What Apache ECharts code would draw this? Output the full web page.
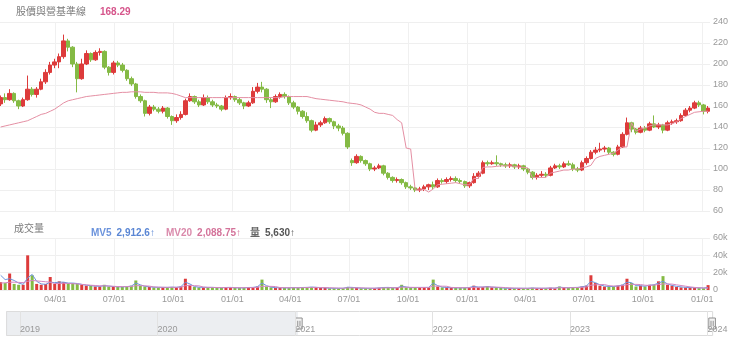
<!DOCTYPE html>
<html>
<head>
<meta charset="utf-8">
<script src="https://cdn.jsdelivr.net/npm/echarts@6/dist/echarts.min.js"></script>
<style>
  html, body { margin: 0; padding: 0; background: #fff; }
  #chart { width: 740px; height: 343px; }
</style>
</head>
<body>
<div id="chart"></div>
<script>
// Weekly candles; the first week is centred on this Wednesday
const firstWeek = '2021-01-06';

const opens = [162,168,166,172,165,160,166,176,171,176,183,192,199,202,207,222,216,200,186,200,
  210,204,211,212,197,192,201,199,194,186,181,169,165,153,159,157,155,158,150,146,
  149,152,165,169,164,161,168,164,161,160,157,168,169,166,163,160,163,174,178,176,
  166,164,169,171,169,163,159,155,150,146,137,142,144,148,145,141,139,134,108,106,
  112,108,105,100,101,103,96,92,89,90,87,83,82,80,81,83,85,83,89,88,
  90,91,89,88,84,87,93,96,106,105,106,105,104,103,104,102,103,100,97,92,
  94,95,94,101,103,102,105,104,100,99,106,110,116,118,119,120,116,114,121,133,
  144,138,135,139,137,143,140,142,137,144,145,146,151,156,158,163,161,155];
const closes = [168,166,172,165,160,166,176,171,176,183,192,199,202,207,222,216,200,186,200,210,
  204,211,212,197,192,201,199,194,186,181,169,165,153,159,157,155,158,150,146,149,
  152,165,169,164,161,168,164,161,160,157,168,169,166,163,160,163,174,178,176,166,
  164,169,171,169,163,159,155,150,146,137,142,144,148,145,141,139,134,121,106,112,
  108,105,100,101,103,96,92,89,90,87,83,82,80,81,83,85,83,89,88,90,
  91,89,88,84,87,93,96,106,105,106,105,104,103,104,102,103,100,97,92,94,
  95,94,101,103,102,105,104,100,99,106,110,116,118,119,120,116,114,121,133,144,
  138,135,139,137,143,140,142,137,144,145,146,151,156,158,163,161,155,158];
const highs = [170,172,176,173,166,168,189,178,178,186,195,202,205,210,228,224,217,202,205,213,
  211,213,215,213,198,203,203,201,195,188,182,171,166,161,161,159,160,159,151,152,
  155,167,172,170,166,171,170,166,163,161,170,172,170,168,164,165,178,182,183,177,
  168,171,173,173,170,165,160,156,154,147,145,146,150,149,146,143,141,135,110,114,
  113,109,106,103,105,104,97,93,92,91,88,85,83,83,85,86,88,91,91,92,
  93,93,91,89,88,96,98,108,108,108,113,106,106,106,105,105,104,101,98,96,
  98,97,103,105,105,107,108,106,102,108,112,118,121,125,122,121,117,123,135,149,
  145,139,141,141,145,151,144,143,146,147,148,153,158,160,165,165,162,160];
const lows = [160,163,165,163,157,159,165,169,168,175,181,190,196,196,205,212,197,173,185,199,
  202,203,208,195,189,190,197,192,184,179,167,163,150,151,155,153,153,148,142,144,
  147,151,164,162,159,160,162,159,158,155,156,166,164,161,157,159,162,172,173,163,
  158,163,167,167,161,157,152,148,144,135,136,140,143,143,138,136,132,119,103,105,
  106,103,98,98,100,94,90,87,87,85,81,80,78,78,79,80,81,82,86,86,
  88,87,86,82,82,86,91,95,103,104,103,102,101,101,100,100,98,95,90,90,
  92,92,93,100,100,101,103,98,97,98,104,109,114,116,116,114,112,113,120,132,
  135,133,134,135,136,139,138,134,136,142,143,145,150,154,157,159,152,153];

// Baseline (pink) line, one value per week
const baseline = [140,141,142,143,144,145,146,148,150,152,153,155,157,160,163,165,166,167,168,169,
  169.5,170,170.5,171,171.5,172,172.5,173,173,173.5,173.5,173.5,173,173,173,172.5,172.5,172.5,172,171,
  169.5,168,168,168,168,168,168,168,168,168,168,168,168,168,168,168,168,168,168,168,
  168,168,168,169,169,169,169,169,169,168,167,166.5,166,165.5,165,164.5,164,163,162.5,162,
  161,159,157,154,153,153,152,151,147,144,120,119,80,80,80.5,78,81,85,85.5,86,
  86.5,87,86,85,85,91,91,101.5,102,102,102.5,103,103,103,102.5,102,101.5,101,92,92,
  92,92,96,97,98,99,99,100,100,101,102,103.5,110,112,113,114,115,118,121,121,
  144,136,138,139,141,142,142,142,142,143,145,148,150,152,154,154.5,155,155];

// Volume (shares) with its 5- and 20-period averages
const volumes = [9000,8000,19000,7000,6000,6000,40000,17000,7000,6000,7000,15000,7000,10000,9000,8000,8000,7000,6000,5000,
  5000,4000,4000,6000,4000,4000,3500,3500,4000,5000,11000,5000,4000,3500,3000,3000,3000,3000,3500,3000,
  4000,13000,6000,3500,3000,3000,3000,3000,2500,2500,3000,3000,2500,2500,2500,3000,3000,4000,12000,4000,
  3000,2500,2500,2500,2500,3000,2500,3000,3000,3500,3000,2500,2500,2000,2000,2000,2000,3500,3000,2500,
  2000,2000,2000,2000,2500,3000,3000,2500,2500,6000,3000,2500,3000,3000,3000,3000,12000,4000,3000,3000,
  2500,2500,2500,2500,3000,5000,3000,3500,4500,3000,3000,2500,2000,2000,2000,2000,2000,2000,2500,2000,
  2000,2000,2500,2000,4000,2500,2500,3000,3000,4000,5000,17000,8000,5000,4000,4000,4000,5000,6000,13000,
  8000,4000,5000,4000,6000,6000,10000,16000,6000,5000,3500,3000,2800,2500,2500,2200,2000,5630];
const mv5 = [17000,12000,13000,11000,8000,6500,14000,18000,10000,7000,6500,9000,8500,9000,9000,8000,8000,7500,6500,5500,
  5000,4500,4200,5000,4500,4000,3700,3600,3900,4500,8000,6000,4300,3700,3200,3100,3000,3000,3300,3100,
  3800,9000,7000,4000,3200,3100,3000,3000,2700,2600,2900,3000,2600,2500,2500,2900,3000,3800,8000,5000,
  3300,2700,2600,2500,2500,2800,2600,2900,3000,3400,3100,2600,2500,2100,2000,2000,2000,3200,3000,2600,
  2100,2000,2000,2000,2400,2900,3000,2600,2500,4500,3500,2700,2900,3000,3000,3000,8000,5000,3300,3000,
  2600,2500,2500,2500,2900,4200,3400,3400,4000,3300,3000,2600,2100,2000,2000,2000,2000,2000,2300,2100,
  2000,2000,2300,2100,3300,2800,2600,2900,3000,3700,4600,10000,8500,6000,4500,4100,4000,4700,5800,9000,
  8500,5000,4900,4300,5500,6000,8000,10000,7000,5300,4200,3600,3100,2800,2600,2500,2300,2912.6];
const mv20 = [8000,8300,9000,9000,8800,8500,10000,11000,10500,10000,9500,9000,7500,7500,7800,7500,7300,7000,6500,6000,
  5500,5200,4800,4800,4600,4300,4000,3900,3900,4000,5000,5000,4800,4500,3600,3300,3200,3100,3100,3100,
  3300,5000,5200,5000,4800,3400,3100,3000,2900,2800,2800,2800,2700,2600,2600,2700,2800,3000,4200,4300,
  4200,4000,2800,2700,2600,2600,2600,2700,2800,2900,3000,2900,2800,2600,2400,2200,2100,2400,2500,2500,
  2500,2300,2100,2100,2200,2400,2500,2600,2700,3200,3200,3100,3000,2900,2900,3000,4500,4500,4400,4300,
  3000,2800,2600,2600,2700,3000,3200,3400,3600,3500,3300,3100,2800,2500,2200,2100,2000,2000,2100,2100,
  2100,2100,2200,2200,2600,2600,2600,2700,2800,3100,3500,5500,6000,6200,6300,5000,4600,4600,5000,6200,
  6500,6500,6300,5500,5300,5700,6300,7000,7000,6800,6000,5200,4400,3600,3000,2600,2300,2088.75];

// Axis ticks
const quarterTicks = ['2021-04-01','2021-07-01','2021-10-01','2022-01-01','2022-04-01','2022-07-01',
  '2022-10-01','2023-01-01','2023-04-01','2023-07-01','2023-10-01','2024-01-01'];
const yearTicks = ['2019-01-01','2020-01-01','2021-01-01','2022-01-01','2023-01-01','2024-01-01'];
const rangeStart = '2018-11-22';
const viewStart = '2021-01-05';
const rangeEnd = '2024-01-13';
const baselineValue = '168.29';

const RED = '#dd3b3b', GREEN = '#84ba44';
const FONT = "'Liberation Sans', 'Noto Sans CJK TC', sans-serif";

function T(s) {
  const p = s.split('-').map(Number);
  return new Date(p[0], p[1] - 1, p[2]).getTime();
}
const DAY = 86400000;
const t0 = T(firstWeek);
const dates = closes.map((_, i) => t0 + i * 7 * DAY);
const pad = n => (n < 10 ? '0' : '') + n;
const fmt = (v, d) => v.toLocaleString('en-US', { maximumFractionDigits: d });
const last = a => a[a.length - 1];

const candleData = dates.map((d, i) => [d, opens[i], closes[i], lows[i], highs[i]]);
const volData = dates.map((d, i) => ({
  value: [d, volumes[i]],
  itemStyle: { color: closes[i] >= opens[i] ? RED : GREEN }
}));

const chart = echarts.init(document.getElementById('chart'), null, { renderer: 'canvas' });

// Dates are plotted as millisecond values on linear axes
const dateAxisBase = {
  type: 'value',
  min: T(rangeStart),
  max: T(rangeEnd),
  axisLine: { show: false },
  splitLine: { show: true, lineStyle: { color: '#f0f0f0', width: 1 } }
};

chart.setOption({
  animation: false,
  textStyle: { fontFamily: FONT },
  title: [
    { left: 11, top: 2, text: '股價與營基準線', textStyle: { fontSize: 10, fontWeight: 'normal', color: '#7a7a7a', fontFamily: FONT } },
    { left: 95, top: 2, text: baselineValue, textStyle: { fontSize: 10, fontWeight: 'bold', color: '#d6558b', fontFamily: FONT } },
    { left: 9, top: 219, text: '成交量', textStyle: { fontSize: 10, fontWeight: 'normal', color: '#7a7a7a', fontFamily: FONT } },
    { left: 86, top: 219, text: '{l|MV5} {v|' + fmt(last(mv5), 2) + '↑}',
      textStyle: { fontFamily: FONT, rich: {
        l: { fontSize: 10, color: '#6b93dc', fontFamily: FONT },
        v: { fontSize: 10, color: '#5a86d4', fontWeight: 'bold', fontFamily: FONT } } } },
    { left: 161, top: 219, text: '{l|MV20} {v|' + fmt(last(mv20), 2) + '↑}',
      textStyle: { fontFamily: FONT, rich: {
        l: { fontSize: 10, color: '#da8aab', fontFamily: FONT },
        v: { fontSize: 10, color: '#d4739a', fontWeight: 'bold', fontFamily: FONT } } } },
    { left: 245, top: 219, text: '{l|量} {v|' + fmt(last(volumes), 0) + '↑}',
      textStyle: { fontFamily: FONT, rich: {
        l: { fontSize: 10, color: '#666', fontFamily: FONT },
        v: { fontSize: 10, color: '#555', fontWeight: 'bold', fontFamily: FONT } } } }
  ],
  grid: [
    { left: 0, right: 30, top: 22, height: 189 },
    { left: 0, right: 30, top: 238, height: 52 },
    { left: 5, right: 28, top: 311, height: 25 }
  ],
  xAxis: [
    Object.assign({}, dateAxisBase, {
      gridIndex: 0,
      axisTick: { show: false, customValues: quarterTicks.map(T) },
      axisLabel: { show: false, customValues: quarterTicks.map(T) }
    }),
    Object.assign({}, dateAxisBase, {
      gridIndex: 1,
      axisTick: { show: false, customValues: quarterTicks.map(T) },
      axisLabel: {
        customValues: quarterTicks.map(T),
        color: '#999', fontSize: 9, margin: 5,
        formatter: v => { const d = new Date(v); return pad(d.getMonth() + 1) + '/' + pad(d.getDate()); }
      }
    }),
    {
      type: 'value', gridIndex: 2, z: 10,
      min: T(rangeStart), max: T(rangeEnd),
      axisLine: { show: false },
      axisTick: { show: false, customValues: yearTicks.map(T) },
      splitLine: { show: true, lineStyle: { color: '#e2e2e2' } },
      axisLabel: {
        inside: true, customValues: yearTicks.map(T), align: 'left',
        color: '#999', fontSize: 9, margin: 2,
        formatter: v => String(new Date(v).getFullYear())
      }
    }
  ],
  yAxis: [
    {
      type: 'value', gridIndex: 0, position: 'right', min: 60, max: 240, interval: 20,
      axisLine: { show: false }, axisTick: { show: false },
      axisLabel: { color: '#999', fontSize: 9, margin: 3 },
      splitLine: { lineStyle: { color: '#efefef' } }
    },
    {
      type: 'value', gridIndex: 1, position: 'right', min: 0, max: 60000, interval: 20000,
      axisLine: { show: false }, axisTick: { show: false },
      axisLabel: { color: '#999', fontSize: 9, margin: 3, formatter: v => (v === 0 ? '0' : v / 1000 + 'k') },
      splitLine: { lineStyle: { color: '#efefef' } }
    },
    { type: 'value', gridIndex: 2, show: false, min: 0, max: 1 }
  ],
  dataZoom: [{
    type: 'slider',
    xAxisIndex: [0, 1],
    filterMode: 'filter',
    startValue: T(viewStart),
    endValue: T(rangeEnd),
    left: 5, right: 28, top: 311, height: 25,
    showDataShadow: false, showDetail: false, brushSelect: false,
    moveHandleSize: 0,
    borderRadius: 0,
    backgroundColor: '#eceef1',
    fillerColor: '#ffffff',
    borderColor: '#dcdcdc',
    handleIcon: 'path://M0,0H6V10H0Z M2,2.5V7.5 M4,2.5V7.5',
    handleSize: 11,
    handleStyle: { color: '#f4f4f4', borderColor: '#8f8f8f', borderWidth: 1 },
    dataBackground: { lineStyle: { opacity: 0 }, areaStyle: { opacity: 0 } },
    selectedDataBackground: { lineStyle: { opacity: 0 }, areaStyle: { opacity: 0 } }
  }],
  series: [
    {
      name: '股價', type: 'candlestick', xAxisIndex: 0, yAxisIndex: 0,
      barWidth: 4,
      data: candleData,
      itemStyle: { color: RED, color0: GREEN, borderColor: RED, borderColor0: GREEN, borderWidth: 1 }
    },
    {
      name: '基準線', type: 'line', xAxisIndex: 0, yAxisIndex: 0,
      data: dates.map((d, i) => [d, baseline[i]]),
      showSymbol: false, lineStyle: { color: '#e48fa3', width: 1 }
    },
    {
      name: '量', type: 'bar', xAxisIndex: 1, yAxisIndex: 1,
      barWidth: 3, data: volData
    },
    {
      name: 'MV5', type: 'line', xAxisIndex: 1, yAxisIndex: 1,
      data: dates.map((d, i) => [d, mv5[i]]),
      showSymbol: false, lineStyle: { color: '#6b93dc', width: 1 }
    },
    {
      name: 'MV20', type: 'line', xAxisIndex: 1, yAxisIndex: 1,
      data: dates.map((d, i) => [d, mv20[i]]),
      showSymbol: false, lineStyle: { color: '#d487c0', width: 1 }
    }
  ]
});
</script>
</body>
</html>
